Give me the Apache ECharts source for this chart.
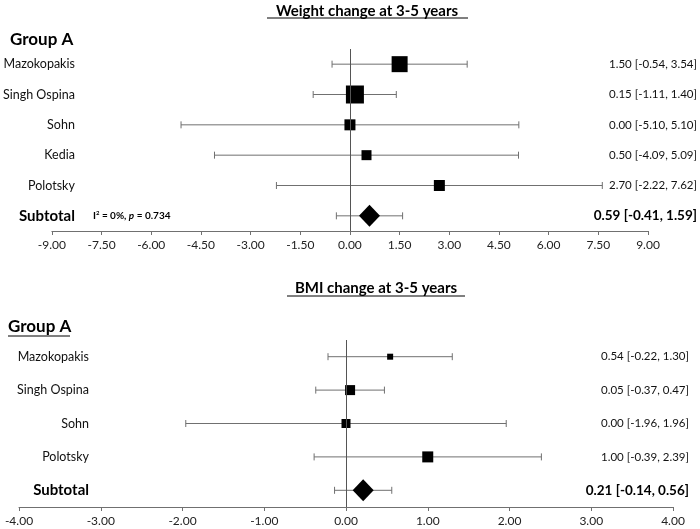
<!DOCTYPE html>
<html>
<head>
<meta charset="utf-8">
<script src="https://cdn.jsdelivr.net/npm/echarts@6/dist/echarts.min.js"></script>
<style>html,body{margin:0;padding:0;background:#fff}#c{width:700px;height:529px}</style>
</head>
<body>
<div id="c"></div>
<script>
// ---- Data: Weight change ----
const wStudies = ['Mazokopakis', 'Singh Ospina', 'Sohn', 'Kedia', 'Polotsky'];
const wEst = [1.50, 0.15, 0.00, 0.50, 2.70];
const wLow = [-0.54, -1.11, -5.10, -4.09, -2.22];
const wHigh = [3.54, 1.40, 5.10, 5.09, 7.62];
const wSub = [0.59, -0.41, 1.59];
const wTicks = [-9, 9, 1.5];

// ---- Data: BMI change ----
const bStudies = ['Mazokopakis', 'Singh Ospina', 'Sohn', 'Polotsky'];
const bEst = [0.54, 0.05, 0.00, 1.00];
const bLow = [-0.22, -0.37, -1.96, -0.39];
const bHigh = [1.30, 0.47, 1.96, 2.39];
const bSub = [0.21, -0.14, 0.56];
const bTicks = [-4, 4, 1];

// marker sizes (style)
const wSizes = [16, 18, 11, 10, 11];
const bSizes = [6, 10, 9, 11];

const FONT = 'Lato';
const LINE = '#707070';
const f2 = v => v.toFixed(2);
const ciText = (e, l, h) => f2(e) + ' [' + f2(l) + ', ' + f2(h) + ']';

function panel(idx, studies, est, low, high, sub, ticks, sizes, leftMargin, rightMargin) {
  const cats = studies.concat(['Subtotal']);
  const rightLabels = studies.map((s, i) => ciText(est[i], low[i], high[i])).concat([ciText(sub[0], sub[1], sub[2])]);
  const n = cats.length;
  const xAxis = {
    gridIndex: idx, type: 'value', min: ticks[0], max: ticks[1], interval: ticks[2],
    axisLine: {show: true, lineStyle: {color: LINE, width: 1}},
    axisTick: {show: true, length: 4, lineStyle: {color: LINE}},
    splitLine: {show: false},
    axisLabel: {formatter: v => f2(v), fontFamily: FONT, fontSize: 12, color: '#222', margin: 8}
  };
  const yLeft = {
    gridIndex: idx, type: 'category', data: cats, inverse: true,
    axisLine: {show: false}, axisTick: {show: false},
    axisLabel: {
      margin: leftMargin, align: 'right', fontFamily: FONT, color: '#111',
      formatter: v => v === 'Subtotal' ? '{b|' + v + '}' : '{n|' + v + '}',
      rich: {n: {fontFamily: FONT, fontSize: 12.5, color: '#111'}, b: {fontFamily: FONT, fontSize: 15, fontWeight: 'bold', color: '#000'}}
    }
  };
  const yRight = {
    gridIndex: idx, type: 'category', data: cats, inverse: true, position: 'right',
    axisLine: {show: false}, axisTick: {show: false},
    axisLabel: {
      margin: rightMargin, align: 'right', fontFamily: FONT,
      formatter: (v, i) => i === n - 1 ? '{b|' + rightLabels[i] + '}' : '{n|' + rightLabels[i] + '}',
      rich: {n: {fontFamily: FONT, fontSize: 11.5, color: '#111'}, b: {fontFamily: FONT, fontSize: 13.5, fontWeight: 'bold', color: '#000'}}
    }
  };
  const barData = studies.map((s, i) => [low[i], high[i], i]).concat([[sub[1], sub[2], n - 1]]);
  const series = [
    {
      type: 'custom', xAxisIndex: idx, yAxisIndex: idx * 2, silent: true, z: 2,
      data: barData,
      renderItem: (params, api) => {
        const p1 = api.coord([api.value(0), api.value(2)]);
        const p2 = api.coord([api.value(1), api.value(2)]);
        const cap = 3.5;
        const st = {stroke: LINE, lineWidth: 1};
        return {type: 'group', children: [
          {type: 'line', shape: {x1: p1[0], y1: p1[1], x2: p2[0], y2: p2[1]}, style: st},
          {type: 'line', shape: {x1: p1[0], y1: p1[1] - cap, x2: p1[0], y2: p1[1] + cap}, style: st},
          {type: 'line', shape: {x1: p2[0], y1: p2[1] - cap, x2: p2[0], y2: p2[1] + cap}, style: st}
        ]};
      },
      markLine: {
        silent: true, symbol: ['none', 'none'], label: {show: false},
        lineStyle: {color: '#555', width: 1, type: 'solid'},
        data: [{xAxis: 0}]
      }
    },
    {
      type: 'scatter', xAxisIndex: idx, yAxisIndex: idx * 2, silent: true, z: 3,
      symbol: 'rect',
      data: studies.map((s, i) => ({value: [est[i], i], symbolSize: sizes[i]})),
      itemStyle: {color: '#000', opacity: 1}
    },
    {
      type: 'scatter', xAxisIndex: idx, yAxisIndex: idx * 2, silent: true, z: 3,
      symbol: 'diamond', symbolSize: [21, 22],
      data: [[sub[0], n - 1]],
      itemStyle: {color: '#000', opacity: 1}
    }
  ];
  return {xAxis, yAxes: [yLeft, yRight], series};
}

const p1 = panel(0, wStudies, wEst, wLow, wHigh, wSub, wTicks, wSizes, -23, 49);
const p2 = panel(1, bStudies, bEst, bLow, bHigh, bSub, bTicks, bSizes, -70, 16);
p2.series.forEach(s => { s.yAxisIndex = 2; });

const option = {
  backgroundColor: '#fff',
  animation: false,
  grid: [
    {left: 50, right: 52, top: 49, height: 182},
    {left: 19, right: 27, top: 340, height: 167}
  ],
  xAxis: [p1.xAxis, p2.xAxis],
  yAxis: [p1.yAxes[0], p1.yAxes[1], p2.yAxes[0], p2.yAxes[1]],
  series: p1.series.concat(p2.series),
  graphic: [
    {type: 'text', style: {text: 'Weight change at 3-5 years', x: 367, y: 4, align: 'center', fontFamily: FONT, fontSize: 15, fontWeight: 'bold', fill: '#000'}},
    {type: 'line', shape: {x1: 267, y1: 18, x2: 468, y2: 18}, style: {stroke: '#000', lineWidth: 1}},
    {type: 'text', style: {text: 'Group A', x: 10, y: 31, fontFamily: FONT, fontSize: 17, fontWeight: 'bold', fill: '#000'}},
    {type: 'text', style: {
      text: '{i|I}{s|2}{t| = 0%, }{p|p}{t| = 0.734}', x: 93, y: 210,
      rich: {
        i: {fontFamily: FONT, fontSize: 10, fontWeight: 'bold', fill: '#000'},
        s: {fontFamily: FONT, fontSize: 6, fontWeight: 'bold', fill: '#000', verticalAlign: 'top', padding: [0, 0, 6, 0]},
        t: {fontFamily: FONT, fontSize: 10, fontWeight: 'bold', fill: '#000'},
        p: {fontFamily: FONT, fontSize: 10, fontWeight: 'bold', fontStyle: 'italic', fill: '#000'}
      }
    }},
    {type: 'text', style: {text: 'BMI change at 3-5 years', x: 376, y: 281, align: 'center', fontFamily: FONT, fontSize: 15, fontWeight: 'bold', fill: '#000'}},
    {type: 'line', shape: {x1: 287, y1: 296, x2: 465, y2: 296}, style: {stroke: '#000', lineWidth: 1}},
    {type: 'text', style: {text: 'Group A', x: 8, y: 318, fontFamily: FONT, fontSize: 17, fontWeight: 'bold', fill: '#000'}},
    {type: 'line', shape: {x1: 8, y1: 336, x2: 70, y2: 336}, style: {stroke: '#000', lineWidth: 1}}
  ]
};

const chart = echarts.init(document.getElementById('c'), null, {renderer: 'canvas'});
chart.setOption(option);
</script>
</body>
</html>
